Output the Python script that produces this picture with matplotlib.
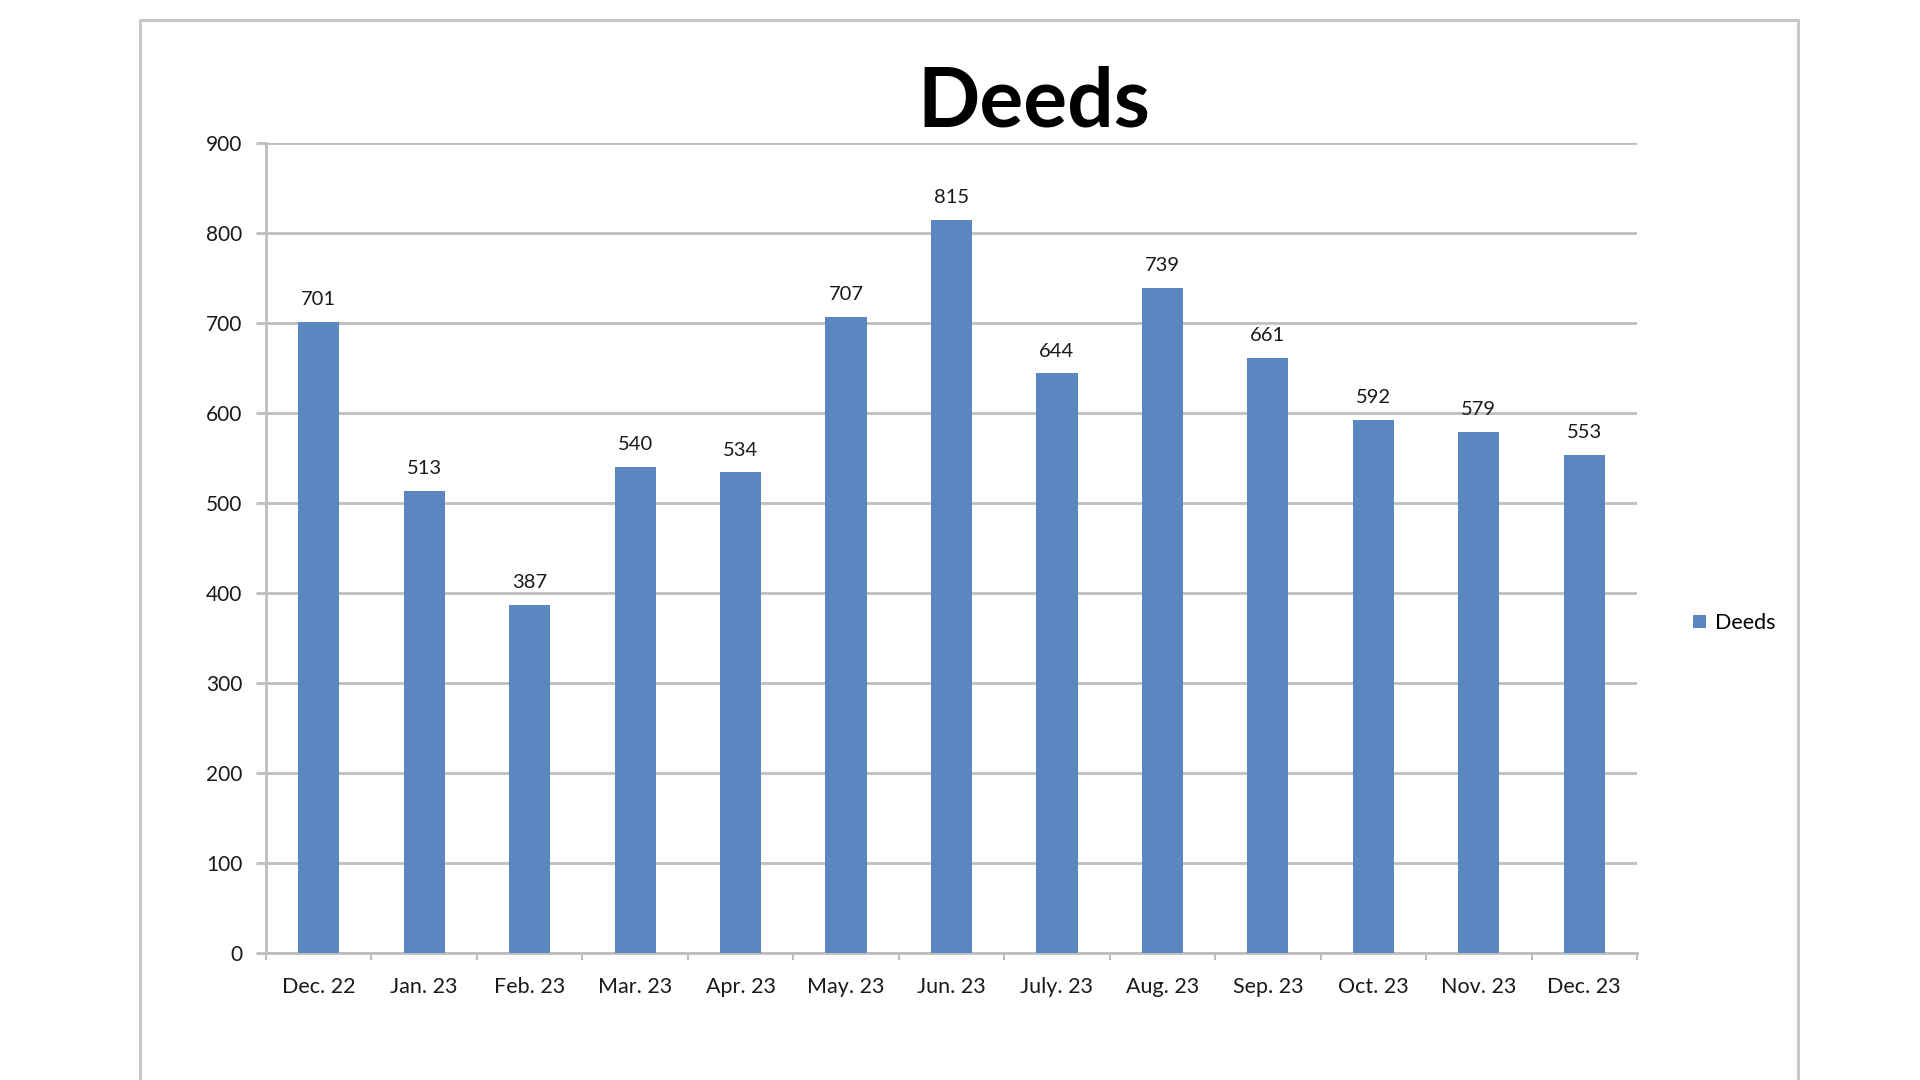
import matplotlib.pyplot as plt
from matplotlib.patches import Rectangle

# data
months = ["Dec. 22", "Jan. 23", "Feb. 23", "Mar. 23", "Apr. 23", "May. 23", "Jun. 23",
          "July. 23", "Aug. 23", "Sep. 23", "Oct. 23", "Nov. 23", "Dec. 23"]
deeds = [701, 513, 387, 540, 534, 707, 815, 644, 739, 661, 592, 579, 553]
y_ticks = [0, 100, 200, 300, 400, 500, 600, 700, 800, 900]

bar_color = "#5A87BF"
grid_color = "#BEBEBE"
font = ["Lato", "DejaVu Sans"]

plt.rcParams["font.family"] = font

fig = plt.figure(figsize=(19.2, 10.8), dpi=100)
fig.patch.set_facecolor("white")

# outer chart frame (runs off the bottom edge like the screenshot)
frame = Rectangle((140 / 1920, -0.05), (1798 - 140) / 1920, 1 - 20 / 1080 + 0.05,
                  transform=fig.transFigure, fill=False, edgecolor="#C8C8C8",
                  linewidth=2.2, zorder=0)
fig.patches.append(frame)

ax = fig.add_axes([266 / 1920, 1 - 953 / 1080, (1637 - 266) / 1920, (953 - 143) / 1080])

x = list(range(len(months)))
bars = ax.bar(x, deeds, width=0.39, color=bar_color, label="Deeds", zorder=3)

for rect, v in zip(bars, deeds):
    ax.annotate(str(v), (rect.get_x() + rect.get_width() / 2, v),
                xytext=(0, 10), textcoords="offset points",
                ha="center", va="bottom", fontsize=14.5, color="#1a1a1a")

ax.set_xlim(-0.5, len(months) - 0.5)
ax.set_ylim(0, 900)
ax.set_yticks(y_ticks)
ax.set_yticklabels([str(t) for t in y_ticks])
ax.yaxis.grid(True, color=grid_color, linewidth=2, zorder=0)
ax.set_axisbelow(True)

# category labels centred, tick marks on the boundaries
ax.set_xticks(x)
ax.set_xticklabels(months)
ax.set_xticks([i - 0.5 for i in range(len(months) + 1)], minor=True)
ax.tick_params(axis="x", which="major", length=0, pad=17, labelsize=15.5, labelcolor="#1a1a1a")
ax.tick_params(axis="x", which="minor", length=5, width=1.5, color=grid_color)
ax.tick_params(axis="y", length=7, width=2, color=grid_color, pad=10,
               labelsize=15, labelcolor="#1a1a1a")

for side in ["top", "right"]:
    ax.spines[side].set_visible(False)
for side in ["left", "bottom"]:
    ax.spines[side].set_color(grid_color)
    ax.spines[side].set_linewidth(2)

fig.text(1034 / 1920, 1 - 103 / 1080, "Deeds", ha="center", va="center",
         fontsize=59, fontweight="bold", color="black")

fig.legend(handles=[bars], labels=["Deeds"], loc="center left",
           bbox_to_anchor=(1674 / 1920, 1 - 623 / 1080), frameon=False,
           fontsize=15.5, handlelength=0.6, handleheight=0.6, handletextpad=0.4)

fig.savefig("out.png", dpi=100)
